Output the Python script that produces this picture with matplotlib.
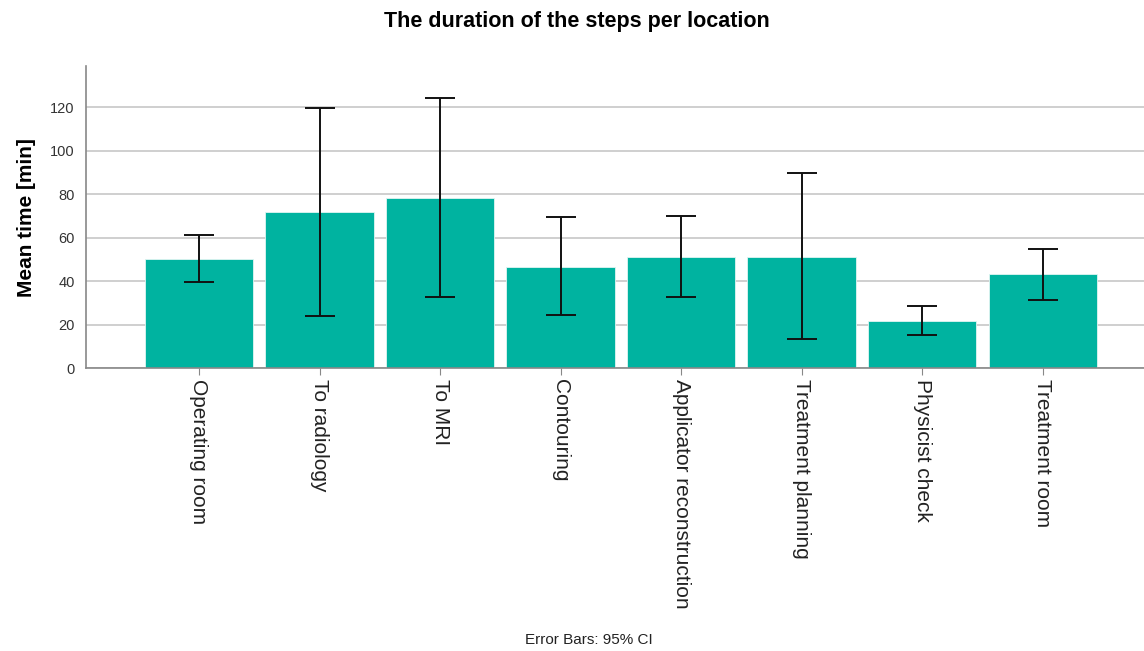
import numpy as np
import matplotlib
matplotlib.use("Agg")
import matplotlib.pyplot as plt

plt.rcParams['font.family'] = ['Liberation Sans', 'DejaVu Sans']

# data
steps = ['Operating room', 'To radiology', 'To MRI', 'Contouring',
         'Applicator reconstruction', 'Treatment planning', 'Physicist check',
         'Treatment room']
mean_time = [50.1, 71.7, 78.4, 46.7, 51.0, 51.3, 21.9, 43.2]
ci_low = [39.5, 24.0, 32.6, 24.4, 32.6, 13.3, 15.3, 31.5]
ci_high = [61.3, 119.8, 124.4, 69.7, 70.0, 89.8, 28.6, 55.0]
yticks = [0, 20, 40, 60, 80, 100, 120]

mean_time = np.array(mean_time)
err = np.vstack([mean_time - np.array(ci_low), np.array(ci_high) - mean_time])
x = np.arange(len(steps))

fig = plt.figure(figsize=(11.44, 6.51), dpi=100)
ax = fig.add_axes([0.0749, 0.4343, 0.9251, 0.4643])

ax.set_axisbelow(True)
ax.yaxis.grid(True, color='#cccccc', lw=1.3)
ax.bar(x, mean_time, width=0.9, color='#00b3a0', edgecolor='#e0f5f2', lw=0.6)
ax.errorbar(x, mean_time, yerr=err, fmt='none', ecolor='#111111',
            elinewidth=1.4, capsize=10.5, capthick=1.4)

ax.set_xlim(-0.94, 7.84)
ax.set_ylim(0, 139)
ax.set_yticks(yticks)
ax.set_xticks(x)
ax.set_xticklabels(steps, rotation=270, fontsize=15, color='#222222',
                   va='top', ha='center')
ax.tick_params(axis='y', length=0, labelsize=10.5, labelcolor='#333333', pad=8)
ax.tick_params(axis='x', length=5, color='#888888', pad=3)

for s in ['top', 'right']:
    ax.spines[s].set_visible(False)
for s in ['left', 'bottom']:
    ax.spines[s].set_color('#888888')
    ax.spines[s].set_linewidth(1.2)

ax.set_ylabel('Mean time [min]', fontsize=15, fontweight='bold', labelpad=10)
fig.text(0.504, 0.967, 'The duration of the steps per location',
         ha='center', va='center', fontsize=15.5, fontweight='bold')
fig.text(0.515, 0.017, 'Error Bars: 95% CI', ha='center', va='center',
         fontsize=11, color='#222222')

fig.savefig('out.png', dpi=100)
